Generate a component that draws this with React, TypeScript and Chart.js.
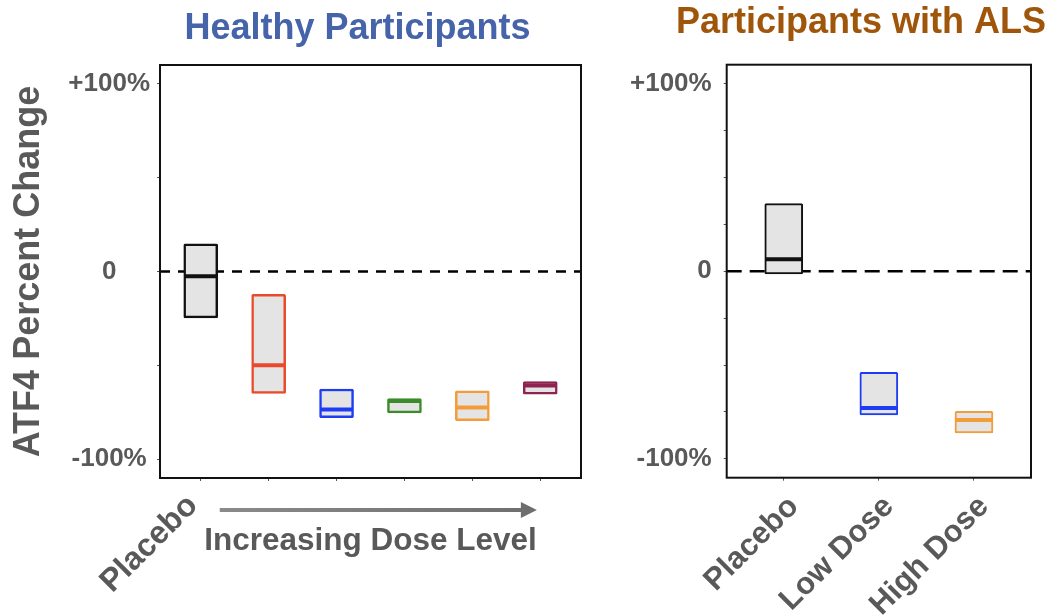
import React, { useEffect, useRef } from 'react';
import { Chart, registerables } from 'chart.js';

Chart.register(...registerables);

// ---------- DATA ----------
// Healthy participants (placebo + increasing dose levels)
const healthyGroups = ['Placebo', 'Dose 1', 'Dose 2', 'Dose 3', 'Dose 4', 'Dose 5'];
const healthyTickLabels = ['Placebo', '', '', '', '', ''];
const healthyLow = [-24.7, -65, -77.8, -75.3, -79.4, -65.4];
const healthyHigh = [14.7, -12.2, -62.6, -67.7, -63.5, -58.7];
const healthyMedian = [-2.5, -50, -73.5, -69, -72.5, -60.7];
const healthyColors = ['#111111', '#ea4a2c', '#1f3cf5', '#3b8b2b', '#f39c3a', '#8e2352'];
const healthyYTicks = [-100, -50, 0, 50, 100];
const healthyYLabels = ['-100%', '', '0', '', '+100%'];

// Participants with ALS
const alsGroups = ['Placebo', 'Low Dose', 'High Dose'];
const alsTickLabels = ['Placebo', 'Low Dose', 'High Dose'];
const alsLow = [-1.4, -76.6, -86.2];
const alsHigh = [36, -53.9, -74.7];
const alsMedian = [6.4, -72.9, -79.3];
const alsColors = ['#111111', '#1f3cf5', '#f39c3a'];
const alsYTicks = [-100, -75, -50, -25, 0, 25, 50, 75, 100];
const alsYLabels = ['-100%', '', '', '', '0', '', '', '', '+100%'];

const yRange = [-110, 110];
const zeroLevel = 0;

// ---------- STYLE ----------
const FONT = "'Liberation Sans', Arial, Helvetica, sans-serif";
const GRAY = '#595959';

const framePlugin = {
  id: 'plotFrame',
  afterDraw(chart: any) {
    const { ctx, chartArea: a } = chart;
    ctx.save();
    ctx.strokeStyle = '#111111';
    ctx.lineWidth = 2;
    ctx.strokeRect(a.left, a.top, a.right - a.left, a.bottom - a.top);
    ctx.restore();
  },
};

const arrowPlugin = {
  id: 'doseArrow',
  afterDraw(chart: any, _args: any, opts: any) {
    if (!opts || !opts.show) return;
    const xs = chart.scales.x;
    const ctx = chart.ctx;
    const x1 = xs.getPixelForValue(opts.from);
    const x2 = xs.getPixelForValue(opts.to);
    const y = xs.top + opts.offsetY;
    const head = 16;
    ctx.save();
    const g = ctx.createLinearGradient(x1, 0, x2, 0);
    g.addColorStop(0, '#8a8a8a');
    g.addColorStop(1, '#6e6e6e');
    ctx.strokeStyle = g;
    ctx.fillStyle = '#6e6e6e';
    ctx.lineWidth = 4;
    ctx.beginPath();
    ctx.moveTo(x1, y);
    ctx.lineTo(x2 - head + 1, y);
    ctx.stroke();
    ctx.beginPath();
    ctx.moveTo(x2, y);
    ctx.lineTo(x2 - head, y - 8);
    ctx.lineTo(x2 - head, y + 8);
    ctx.closePath();
    ctx.fill();
    ctx.restore();
  },
};

type Spec = {
  title: string;
  titleColor: string;
  titlePad: { top: number; bottom: number };
  groups: string[];
  tickLabels: string[];
  low: number[];
  high: number[];
  median: number[];
  colors: string[];
  yTicks: number[];
  yLabels: string[];
  yTitle?: string;
  xTitle?: string;
  yWidth: number;
  spacerWidth: number;
  xHeight: number;
  yCrossAlign: 'center' | 'near';
  yTickPadding: number;
  xTickPadding: number;
  xLabelOffset: number;
  xTickFont: number;
  barWidth: number;
  barBorder: number;
  medianWidth: number;
  dash: number[];
  arrow?: { from: number; to: number; offsetY: number };
};

function buildConfig(p: Spec): any {
  const xMin = -0.6;
  const xMax = p.groups.length - 1 + 0.6;
  const boxData = p.groups.map((_, i) => ({ x: i, y: [p.low[i], p.high[i]] }));
  const medData = p.groups.map((_, i) => ({ x: i, y: p.median[i] }));
  const zeroData = [
    { x: xMin, y: zeroLevel },
    { x: xMax, y: zeroLevel },
  ];
  return {
    type: 'bar',
    data: {
      datasets: [
        {
          type: 'line',
          data: zeroData,
          borderColor: '#000000',
          borderWidth: 2.5,
          borderDash: p.dash,
          pointRadius: 0,
          order: 3,
        },
        {
          type: 'bar',
          data: boxData,
          backgroundColor: '#e4e4e4',
          borderColor: p.colors,
          borderWidth: p.barBorder,
          borderSkipped: false,
          borderRadius: 1.5,
          barThickness: p.barWidth,
          order: 2,
        },
        {
          type: 'scatter',
          data: medData,
          pointStyle: 'line',
          pointRadius: p.barWidth / 2 - 0.5,
          pointBorderWidth: p.medianWidth,
          pointBorderColor: p.colors,
          borderColor: p.colors,
          order: 1,
        },
      ],
    },
    options: {
      responsive: false,
      animation: false,
      events: [],
      layout: { padding: 0 },
      plugins: {
        legend: { display: false },
        tooltip: { enabled: false },
        title: {
          display: true,
          text: p.title,
          color: p.titleColor,
          font: { family: FONT, size: 36, weight: 'bold' },
          padding: p.titlePad,
        },
        doseArrow: p.arrow ? { show: true, ...p.arrow } : { show: false },
      },
      scales: {
        x: {
          type: 'linear',
          min: xMin,
          max: xMax,
          offset: false,
          position: 'bottom',
          grid: { display: true, drawOnChartArea: false, offset: false, tickLength: 3, tickColor: '#555555', tickWidth: 1 },
          border: { display: false },
          afterBuildTicks: (s: any) => {
            s.ticks = p.groups.map((_, i) => ({ value: i }));
          },
          ticks: {
            autoSkip: false,
            minRotation: 45,
            maxRotation: 45,
            padding: p.xTickPadding,
            labelOffset: p.xLabelOffset,
            color: GRAY,
            font: { family: FONT, size: p.xTickFont, weight: 'bold' },
            callback: (_v: any, i: number) => p.tickLabels[i] ?? '',
          },
          title: p.xTitle
            ? {
                display: true,
                text: p.xTitle,
                color: GRAY,
                font: { family: FONT, size: 31.5, weight: 'bold' },
                padding: { top: 0, bottom: 56 },
              }
            : { display: false },
          afterFit: (s: any) => {
            s.height = p.xHeight;
          },
        },
        y: {
          type: 'linear',
          min: yRange[0],
          max: yRange[1],
          position: 'left',
          grid: { drawOnChartArea: false, tickLength: 3, tickColor: '#555555', tickWidth: 1 },
          border: { display: false },
          afterBuildTicks: (s: any) => {
            s.ticks = p.yTicks.map((v) => ({ value: v }));
          },
          ticks: {
            autoSkip: false,
            crossAlign: p.yCrossAlign,
            padding: p.yTickPadding,
            color: GRAY,
            font: { family: FONT, size: 26, weight: 'bold' },
            callback: (_v: any, i: number) => p.yLabels[i] ?? '',
          },
          title: p.yTitle
            ? {
                display: true,
                text: p.yTitle,
                color: GRAY,
                font: { family: FONT, size: 36, weight: 'bold' },
                padding: { top: 7, bottom: 0 },
              }
            : { display: false },
          afterFit: (s: any) => {
            s.width = p.yWidth;
          },
        },
        spacer: {
          type: 'linear',
          position: 'right',
          display: true,
          grid: { display: false },
          border: { display: false },
          ticks: { display: false },
          afterFit: (s: any) => {
            s.width = p.spacerWidth;
          },
        },
      },
    },
    plugins: [framePlugin, arrowPlugin],
  };
}

const healthySpec: Spec = {
  title: 'Healthy Participants',
  titleColor: '#4664aa',
  titlePad: { top: 7.5, bottom: 14.3 },
  groups: healthyGroups,
  tickLabels: healthyTickLabels,
  low: healthyLow,
  high: healthyHigh,
  median: healthyMedian,
  colors: healthyColors,
  yTicks: healthyYTicks,
  yLabels: healthyYLabels,
  yTitle: 'ATF4 Percent Change',
  xTitle: 'Increasing Dose Level',
  yWidth: 160,
  spacerWidth: 134,
  xHeight: 138,
  yCrossAlign: 'center',
  yTickPadding: 7,
  xTickPadding: 6,
  xLabelOffset: -8,
  xTickFont: 32,
  barWidth: 34,
  barBorder: 2.5,
  medianWidth: 4,
  dash: [10, 8],
  arrow: { from: 0.28, to: 4.95, offsetY: 32 },
};

const alsSpec: Spec = {
  title: 'Participants with ALS',
  titleColor: '#a0560a',
  titlePad: { top: 1.5, bottom: 20 },
  groups: alsGroups,
  tickLabels: alsTickLabels,
  low: alsLow,
  high: alsHigh,
  median: alsMedian,
  colors: alsColors,
  yTicks: alsYTicks,
  yLabels: alsYLabels,
  yWidth: 106.7,
  spacerWidth: 71,
  xHeight: 138.3,
  yCrossAlign: 'near',
  yTickPadding: 12,
  xTickPadding: 8,
  xLabelOffset: 10,
  xTickFont: 31,
  barWidth: 38,
  barBorder: 2,
  medianWidth: 4,
  dash: [15, 8],
};

export default function App() {
  const leftRef = useRef<HTMLCanvasElement | null>(null);
  const rightRef = useRef<HTMLCanvasElement | null>(null);

  useEffect(() => {
    const a = new Chart(leftRef.current as HTMLCanvasElement, buildConfig(healthySpec));
    const b = new Chart(rightRef.current as HTMLCanvasElement, buildConfig(alsSpec));
    return () => {
      a.destroy();
      b.destroy();
    };
  }, []);

  return (
    <div
      style={{
        position: 'absolute',
        left: 0,
        top: 0,
        width: 1054,
        height: 616,
        overflow: 'hidden',
        background: '#ffffff',
      }}
    >
      <canvas
        ref={leftRef}
        width={715}
        height={616}
        style={{ position: 'absolute', left: 0, top: 0, width: 715, height: 616 }}
      />
      <canvas
        ref={rightRef}
        width={482}
        height={616}
        style={{ position: 'absolute', left: 620, top: 0, width: 482, height: 616 }}
      />
    </div>
  );
}
